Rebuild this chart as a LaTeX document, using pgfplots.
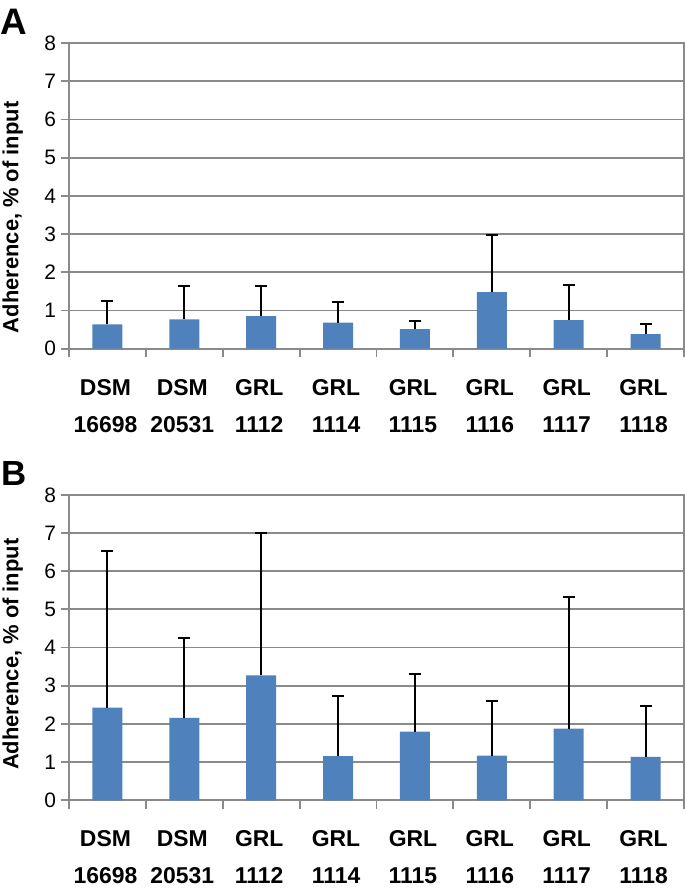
\documentclass[border=0pt]{standalone}
\usepackage{fontspec}
\setmainfont{Liberation Sans}
\usepackage{pgfplots}
\pgfplotsset{compat=1.18}
\usepackage{pgfplotstable}
\definecolor{barblue}{HTML}{4F81BD}
\definecolor{gridgray}{HTML}{8A8A8A}

\pgfplotstableread{
x y e
0 0.64 0.60
1 0.77 0.87
2 0.85 0.78
3 0.68 0.54
4 0.51 0.21
5 1.48 1.51
6 0.75 0.91
7 0.38 0.28
}\dataA

\pgfplotstableread{
x y e
0 2.43 4.09
1 2.16 2.09
2 3.27 3.73
3 1.16 1.57
4 1.80 1.50
5 1.17 1.44
6 1.88 3.44
7 1.14 1.32
}\dataB

\pgfplotsset{panel/.style={
  scale only axis, width=615bp, height=305.5bp,
  xmin=-0.5, xmax=7.5, ymin=0, ymax=8,
  ytick={0,...,8},
  xtick={-0.5,0.5,...,7.5}, xticklabels={,,,,,,,,,},
  extra x ticks={0,...,7},
  extra x tick labels={{DSM\\[11bp]16698},{DSM\\[11bp]20531},{GRL\\[11bp]1112},{GRL\\[11bp]1114},{GRL\\[11bp]1115},{GRL\\[11bp]1116},{GRL\\[11bp]1117},{GRL\\[11bp]1118}},
  extra x tick style={major tick length=0pt},
  tick align=outside, xtick pos=bottom, ytick pos=left,
  major tick length=8.5bp,
  tick style={gridgray, line width=1.8bp},
  ymajorgrids, major grid style={gridgray, line width=1.8bp},
  axis line style={gridgray, line width=1.8bp},
  /pgf/number format/assume math mode=true,
  yticklabel style={font=\fontsize{21}{24}\selectfont, xshift=-1bp},
  xticklabel style={font=\fontsize{23}{26}\selectfont\bfseries, align=center, yshift=-27bp, xshift=-2bp},
  ylabel={Adherence, \% of input},
  ybar, bar width=30bp,
}}

\begin{document}
\begin{tikzpicture}
\path[use as bounding box] (0,0) rectangle (685bp,-889bp);
\begin{axis}[panel, at={(69bp,-348.7bp)}, anchor=south west,
  every axis y label/.style={at={(axis description cs:-0.0915,0.43)}, rotate=90, anchor=center, font=\fontsize{22}{24}\selectfont\bfseries}]
\addplot[fill=barblue, draw=none,
  error bars/.cd, y dir=plus, y explicit,
  error bar style={black, line width=2bp},
  error mark options={black, line width=2bp, mark size=6bp, rotate=90}]
  table[x=x, y=y, y error=e] {\dataA};
\end{axis}
\begin{axis}[panel, at={(69bp,-800.3bp)}, anchor=south west,
  every axis y label/.style={at={(axis description cs:-0.0915,0.478)}, rotate=90, anchor=center, font=\fontsize{22}{24}\selectfont\bfseries}]
\addplot[fill=barblue, draw=none,
  error bars/.cd, y dir=plus, y explicit,
  error bar style={black, line width=2bp},
  error mark options={black, line width=2bp, mark size=6bp, rotate=90}]
  table[x=x, y=y, y error=e] {\dataB};
\end{axis}
\node[anchor=base west, inner sep=0, font=\fontsize{37}{40}\selectfont\bfseries] at (0bp,-34bp) {A};
\node[anchor=base west, inner sep=0, font=\fontsize{35}{40}\selectfont\bfseries] at (1bp,-485bp) {B};
\end{tikzpicture}
\end{document}
